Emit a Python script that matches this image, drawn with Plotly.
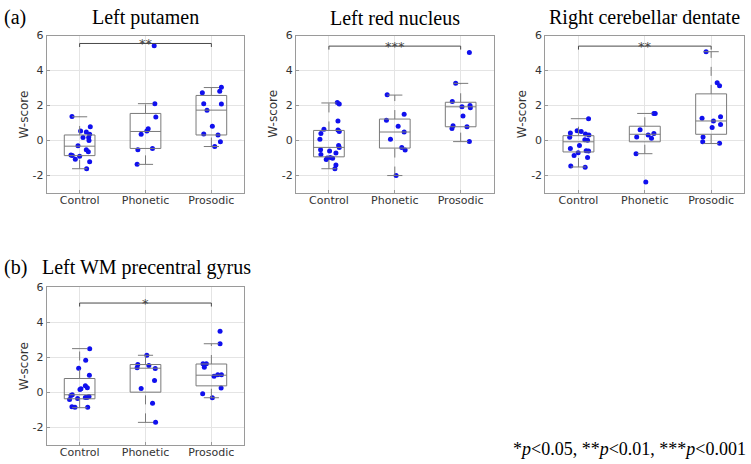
import plotly.graph_objects as go

W, H = 751, 464

groups = ["Control", "Phonetic", "Prosodic"]
titles = ["Left putamen", "Left red nucleus", "Right cerebellar dentate", "Left WM precentral gyrus"]
stars = ["**", "***", "**", "*"]
bracket_y = [5.55, 5.4, 5.4, 5.1]
footnote = "*<i>p</i>&lt;0.05, **<i>p</i>&lt;0.01, ***<i>p</i>&lt;0.001"
yticks = [-2, 0, 2, 4, 6]

# Box statistics per panel: [q1, median, q3, lower whisker, upper whisker] for each group
box_p1 = [[-0.86, -0.32, 0.32, -1.61, 1.36], [-0.45, 0.52, 1.55, -1.36, 2.11], [0.32, 1.74, 2.58, -0.34, 3.03]]
box_p2 = [[-0.93, -0.39, 0.58, -1.61, 2.15], [-0.43, 0.49, 1.23, -2.00, 2.60], [0.79, 1.93, 2.19, -0.06, 3.27]]
box_p3 = [[-0.65, -0.07, 0.28, -1.51, 1.25], [-0.07, 0.36, 0.82, -0.75, 1.55], [0.36, 1.12, 2.67, -0.17, 5.08]]
box_p4 = [[-0.38, -0.15, 0.78, -0.89, 2.49], [0.00, 1.37, 1.58, -1.73, 2.11], [0.36, 0.97, 1.61, -0.32, 2.77]]

# Individual W-scores (values) and their horizontal jitter offsets
p1_ctrl_y = [1.38, 0.54, 0.49, 0.79, 0.36, 0.17, 0.17, 0.0, -0.3, -0.52, -0.64, -0.82, -0.86, -0.9, -1.07, -1.21, -1.61]
p1_ctrl_j = [-0.116, 0.015, 0.101, 0.162, 0.152, 0.051, 0.137, 0.142, -0.025, 0.101, 0.132, -0.132, -0.111, 0.0, -0.066, 0.152, 0.106]
p1_phon_y = [5.42, 2.11, 1.35, 0.67, 0.54, 0.36, -0.52, -0.45, -1.36]
p1_phon_j = [0.132, 0.142, 0.157, 0.041, 0.020, -0.066, -0.116, 0.106, -0.127]
p1_pros_y = [3.05, 2.82, 2.73, 2.11, 2.09, 1.74, 0.82, 0.37, 0.32, -0.07, -0.34]
p1_pros_j = [0.152, 0.127, -0.137, -0.116, 0.152, -0.066, 0.015, -0.116, 0.101, 0.137, 0.051]

p2_ctrl_y = [2.17, 2.09, 1.12, 0.6, 0.52, 0.64, 0.41, 0.07, -0.28, -0.39, -0.52, -0.6, -0.71, -0.8, -0.97, -0.99, -1.01, -1.08, -1.4, -1.61]
p2_ctrl_j = [0.127, 0.157, 0.137, 0.137, 0.157, -0.076, -0.122, -0.137, 0.147, 0.157, -0.127, 0.010, 0.106, -0.122, 0.020, -0.025, 0.056, -0.041, 0.106, 0.091]
p2_phon_y = [2.62, 1.51, 1.16, 0.82, 0.49, 0.07, -0.39, -0.54, -2.0]
p2_phon_j = [-0.116, 0.142, -0.127, 0.051, 0.142, -0.066, 0.106, 0.157, 0.020]
p2_pros_y = [5.03, 3.27, 2.24, 1.94, 2.0, 1.87, 1.4, 0.84, 0.69, 0.79, -0.06]
p2_pros_j = [0.132, -0.076, -0.127, 0.020, 0.142, 0.147, 0.035, -0.116, -0.132, 0.096, 0.132]

p3_ctrl_y = [1.25, 0.56, 0.52, 0.43, 0.32, 0.19, 0.37, 0.04, 0.02, -0.28, -0.45, -0.58, -0.6, -0.69, -0.86, -0.97, -1.46, -1.53]
p3_ctrl_j = [0.152, -0.020, 0.041, -0.122, 0.157, -0.132, 0.106, 0.096, 0.137, 0.015, -0.122, 0.116, 0.152, -0.005, -0.066, 0.137, -0.116, 0.101]
p3_phon_y = [1.55, 1.55, 0.62, 0.41, 0.32, 0.21, 0.13, -0.75, -2.37]
p3_phon_j = [0.137, 0.157, -0.071, 0.137, 0.051, -0.122, 0.101, -0.132, 0.015]
p3_pros_y = [5.08, 3.31, 3.14, 1.27, 1.36, 1.12, 0.92, 0.75, 0.21, -0.07, -0.15]
p3_pros_j = [-0.076, 0.091, 0.127, -0.137, 0.142, 0.035, 0.142, 0.015, -0.122, -0.127, 0.127]

p4_ctrl_y = [2.49, 1.82, 1.37, 0.97, 0.36, 0.25, 0.19, 0.15, -0.15, -0.19, -0.25, -0.3, -0.3, -0.36, -0.42, -0.84, -0.87, -0.87]
p4_ctrl_j = [0.153, 0.092, -0.015, 0.148, 0.087, 0.117, 0.020, 0.005, -0.112, -0.132, 0.142, 0.112, 0.087, -0.031, -0.153, -0.117, -0.071, 0.122]
p4_phon_y = [2.11, 1.58, 1.52, 1.39, 1.35, 0.66, 0.21, -0.63, -1.73]
p4_phon_j = [0.020, -0.117, 0.051, -0.127, 0.148, 0.137, -0.066, 0.107, 0.153]
p4_pros_y = [3.49, 2.77, 1.63, 1.63, 1.42, 0.99, 0.99, 0.91, 0.23, -0.09, -0.32]
p4_pros_j = [0.132, 0.132, -0.127, -0.076, -0.107, 0.097, 0.153, 0.041, 0.148, -0.132, 0.015]

panels = [
    (box_p1, [(p1_ctrl_y, p1_ctrl_j), (p1_phon_y, p1_phon_j), (p1_pros_y, p1_pros_j)]),
    (box_p2, [(p2_ctrl_y, p2_ctrl_j), (p2_phon_y, p2_phon_j), (p2_pros_y, p2_pros_j)]),
    (box_p3, [(p3_ctrl_y, p3_ctrl_j), (p3_phon_y, p3_phon_j), (p3_pros_y, p3_pros_j)]),
    (box_p4, [(p4_ctrl_y, p4_ctrl_j), (p4_phon_y, p4_phon_j), (p4_pros_y, p4_pros_j)]),
]

# layout geometry (pixels)
xdoms_px = [(46.7, 244.3), (296.0, 493.6), (545.3, 744.3), (46.7, 244.3)]
ydoms_px = [(30.0, 189.5), (30.0, 189.5), (30.0, 189.5), (285.0, 444.3)]

BOX_HALF = 0.233
CAP_HALF = 0.115
BOX_COLOR = "#7a7a7a"
FRAME_COLOR = "#9a9a9a"
GRID_COLOR = "#e4e4e4"
TICK_FONT = dict(family="DejaVu Sans", size=11, color="#333333")

fig = go.Figure()
shapes = []
annotations = []
layout_axes = {}

for i, (boxes, pts) in enumerate(panels):
    n = "" if i == 0 else str(i + 1)
    xa, ya = "x" + n, "y" + n
    x0, x1 = xdoms_px[i]
    yt, yb = ydoms_px[i]
    layout_axes["xaxis" + n] = dict(
        domain=[x0 / W, x1 / W], anchor=ya, range=[0.5, 3.5],
        tickmode="array", tickvals=[1, 2, 3], ticktext=groups,
        showgrid=True, gridcolor=GRID_COLOR, gridwidth=1,
        showline=True, mirror=True, linecolor=FRAME_COLOR, linewidth=1,
        ticks="inside", ticklen=3, tickcolor=FRAME_COLOR, ticklabelstandoff=-3,
        tickfont=TICK_FONT, zeroline=False, fixedrange=True,
    )
    layout_axes["yaxis" + n] = dict(
        domain=[1 - yb / H, 1 - yt / H], anchor=xa, range=[-3, 6],
        tickmode="array", tickvals=yticks, ticktext=[str(v) for v in yticks],
        showgrid=True, gridcolor=GRID_COLOR, gridwidth=1,
        showline=True, mirror=True, linecolor=FRAME_COLOR, linewidth=1,
        ticks="inside", ticklen=3, tickcolor=FRAME_COLOR,
        tickfont=TICK_FONT, zeroline=False, fixedrange=True,
    )
    # boxes
    for g, (q1, med, q3, lo, hi) in enumerate(boxes):
        c = g + 1
        shapes.append(dict(type="line", xref=xa, yref=ya, x0=c, x1=c, y0=q3, y1=hi,
                           line=dict(color=BOX_COLOR, width=1, dash="dash")))
        shapes.append(dict(type="line", xref=xa, yref=ya, x0=c, x1=c, y0=lo, y1=q1,
                           line=dict(color=BOX_COLOR, width=1, dash="dash")))
        shapes.append(dict(type="line", xref=xa, yref=ya, x0=c - CAP_HALF, x1=c + CAP_HALF, y0=hi, y1=hi,
                           line=dict(color=BOX_COLOR, width=1)))
        shapes.append(dict(type="line", xref=xa, yref=ya, x0=c - CAP_HALF, x1=c + CAP_HALF, y0=lo, y1=lo,
                           line=dict(color=BOX_COLOR, width=1)))
        shapes.append(dict(type="rect", xref=xa, yref=ya, x0=c - BOX_HALF, x1=c + BOX_HALF, y0=q1, y1=q3,
                           line=dict(color=BOX_COLOR, width=1)))
        shapes.append(dict(type="line", xref=xa, yref=ya, x0=c - BOX_HALF, x1=c + BOX_HALF, y0=med, y1=med,
                           line=dict(color=BOX_COLOR, width=1)))
    # points
    for g, (vals, jit) in enumerate(pts):
        fig.add_trace(go.Scatter(
            x=[g + 1 + j for j in jit], y=vals, xaxis=xa, yaxis=ya, mode="markers",
            marker=dict(color="#1010ee", size=5, line=dict(width=0)),
            showlegend=False, hoverinfo="skip"))
    # significance bracket
    by = bracket_y[i]
    shapes.append(dict(type="path", xref=xa, yref=ya,
                       path=f"M 1,{by-0.2} L 1,{by} L 3,{by} L 3,{by-0.2}",
                       line=dict(color="#484848", width=1)))
    annotations.append(dict(xref=xa, yref=ya, x=2, y=by, text=stars[i], showarrow=False,
                            yanchor="middle", xanchor="center",
                            font=dict(family="DejaVu Sans", size=13, color="#444444")))
    # y label
    annotations.append(dict(xref="paper", yref="paper", x=(x0 - 22.5) / W, y=1 - ((yt + yb) / 2) / H,
                            text="W-score", textangle=-90, showarrow=False,
                            xanchor="center", yanchor="middle",
                            font=dict(family="DejaVu Sans", size=12, color="#333333")))
    # title
    if i < 3:
        annotations.append(dict(xref="paper", yref="paper", x=((x0 + x1) / 2) / W, y=1 - 12 / H,
                                text=titles[i], showarrow=False, xanchor="center", yanchor="middle",
                                font=dict(family="Liberation Serif", size=20, color="black")))
    else:
        annotations.append(dict(xref="paper", yref="paper", x=40 / W, y=1 - 265 / H,
                                text=titles[i], showarrow=False, xanchor="left", yanchor="middle",
                                font=dict(family="Liberation Serif", size=20, color="black")))

annotations.append(dict(xref="paper", yref="paper", x=2 / W, y=1 - 12 / H, text="(a)", showarrow=False,
                        xanchor="left", yanchor="middle",
                        font=dict(family="Liberation Serif", size=20, color="black")))
annotations.append(dict(xref="paper", yref="paper", x=2 / W, y=1 - 265 / H, text="(b)", showarrow=False,
                        xanchor="left", yanchor="middle",
                        font=dict(family="Liberation Serif", size=20, color="black")))
annotations.append(dict(xref="paper", yref="paper", x=748 / W, y=1 - 449 / H, text=footnote, showarrow=False,
                        xanchor="right", yanchor="middle",
                        font=dict(family="Liberation Serif", size=18, color="black")))

fig.update_layout(
    width=W, height=H, margin=dict(l=0, r=0, t=0, b=0),
    paper_bgcolor="white", plot_bgcolor="white",
    shapes=shapes, annotations=annotations, showlegend=False,
    **layout_axes,
)
fig.write_html("out.html", config={"displayModeBar": False},
               post_script="document.body.style.margin='0';document.body.style.overflow='hidden';")
